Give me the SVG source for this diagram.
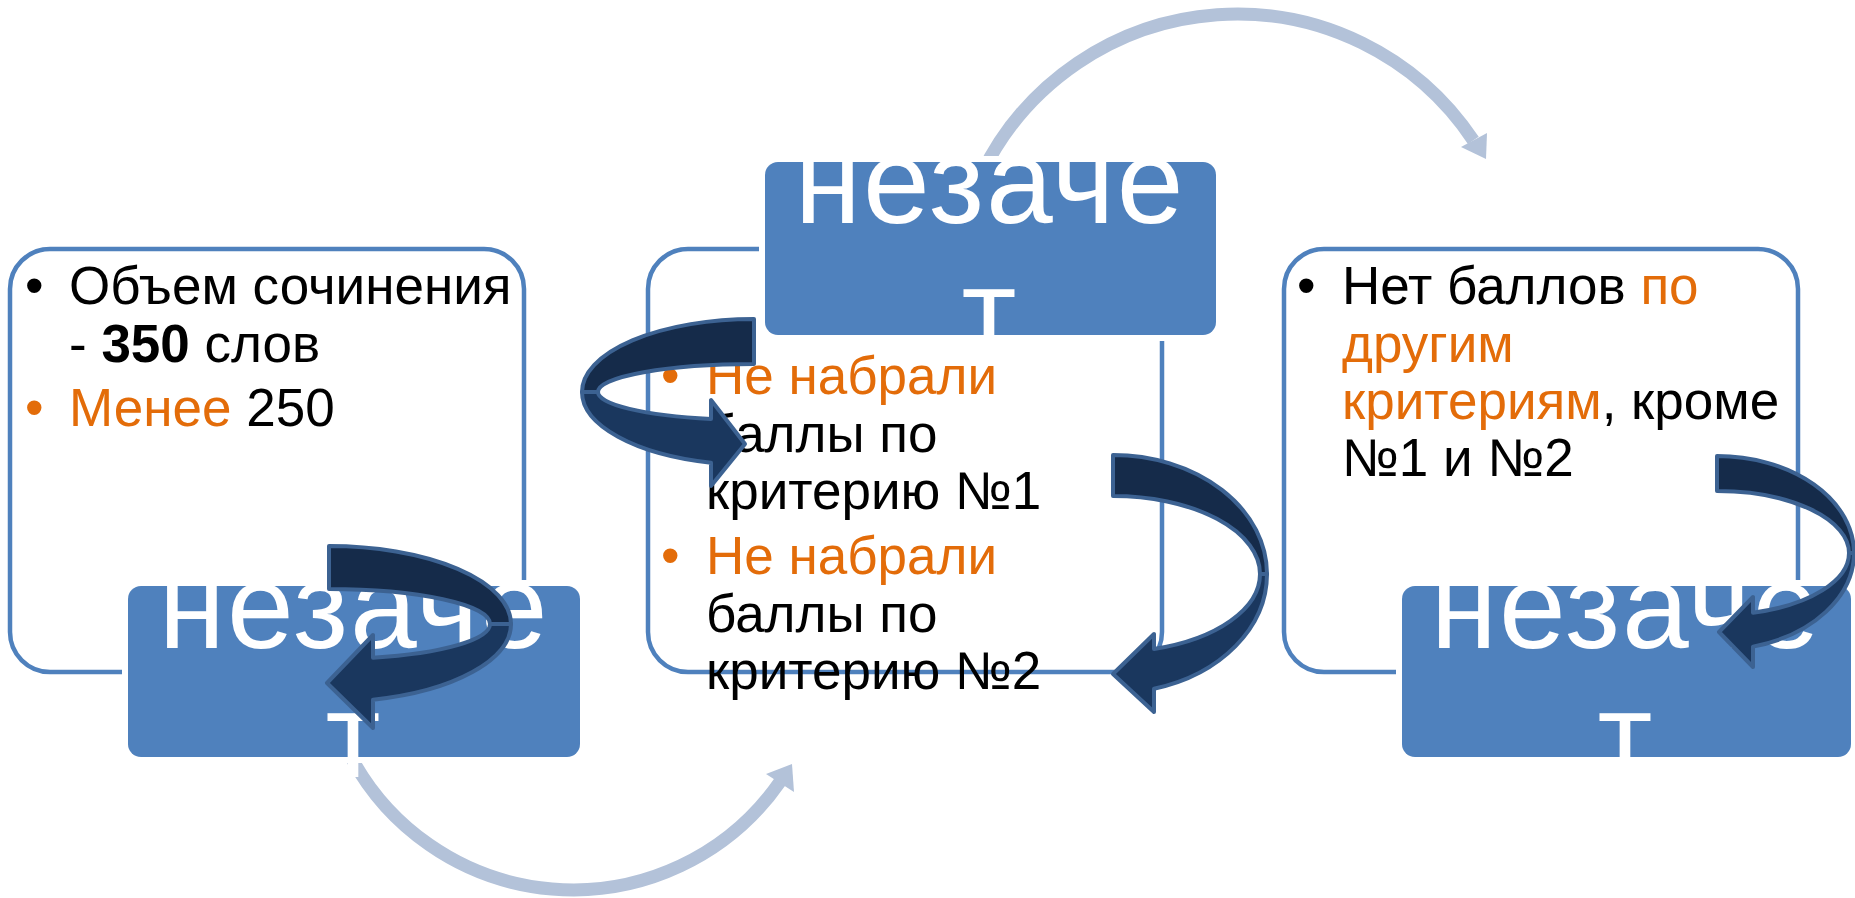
<svg xmlns="http://www.w3.org/2000/svg" width="1855" height="898" viewBox="0 0 1855 898">
<style>
.box{fill:#fff;stroke:#4F81BD;stroke-width:4.5}
.tag{fill:#4F81BD;stroke:#fff;stroke-width:12;paint-order:stroke}
.tagt{font-family:"Liberation Sans",Arial,sans-serif;font-size:120px;letter-spacing:2px;fill:#fff;text-anchor:middle}
.t{font-family:"Liberation Sans",Arial,sans-serif;font-size:53px;fill:#000}
.o{fill:#E36C09}
.arc{fill:none;stroke:#B3C2D9;stroke-width:13}
.ah{fill:#B3C2D9}
.back{fill:#152B4A;stroke:#3C6292;stroke-width:4;stroke-linejoin:round}
.front{fill:#1A375E;stroke:#3C6292;stroke-width:4;stroke-linejoin:round}
</style>
<rect width="1855" height="898" fill="#fff"/>
<g id="connectors-cycle">
  <path class="arc" d="M 981 175 A 284 284 0 0 1 1473.3 140.4"/>
  <polygon class="ah" points="1461,147 1487,133 1486,159"/>
  <path class="arc" d="M 345 745 A 252 252 0 0 0 780 781.7"/>
  <polygon class="ah" points="766,774 794,792 792,764"/>
</g>
<g id="node-left">
  <rect class="box" x="10" y="249" width="514" height="423" rx="40"/>
  <text class="t"><tspan x="25" y="304">•</tspan><tspan x="69" y="304">Объем сочинения</tspan></text>
  <text class="t" x="69" y="361.5">- <tspan font-weight="bold">350</tspan> слов</text>
  <text class="t"><tspan class="o" x="25" y="426">•</tspan><tspan class="o" x="69" y="426">Менее</tspan> 250</text>
</g>
<g id="node-middle">
  <rect class="box" x="648" y="249" width="514" height="423" rx="40"/>
  <text class="t"><tspan class="o" x="661" y="394">•</tspan><tspan class="o" x="706" y="394">Не набрали</tspan><tspan x="706" y="452">баллы по</tspan><tspan x="706" y="509">критерию №1</tspan></text>
  <text class="t"><tspan class="o" x="661" y="574">•</tspan><tspan class="o" x="706" y="574">Не набрали</tspan><tspan x="706" y="632">баллы по</tspan><tspan x="706" y="689">критерию №2</tspan></text>
</g>
<g id="node-right">
  <rect class="box" x="1284" y="249" width="514" height="423" rx="40"/>
  <text class="t"><tspan x="1297" y="304">•</tspan><tspan x="1342" y="304">Нет баллов </tspan><tspan class="o">по</tspan><tspan class="o" x="1342" y="361.5">другим</tspan><tspan class="o" x="1342" y="419">критериям</tspan><tspan>, кроме</tspan><tspan x="1342" y="475.5">№1 и №2</tspan></text>
</g>
<g id="tag-left">
  <rect class="tag" x="128" y="586" width="452" height="171" rx="13"/>
  <text class="tagt"><tspan x="354" y="648">незаче</tspan><tspan x="354" y="777">т</tspan></text>
</g>
<g id="tag-top">
  <rect class="tag" x="765" y="162" width="451" height="173" rx="13"/>
  <text class="tagt"><tspan x="990" y="223">незаче</tspan><tspan x="990" y="353">т</tspan></text>
</g>
<g id="tag-right">
  <rect class="tag" x="1402" y="586" width="449" height="171" rx="13"/>
  <text class="tagt"><tspan x="1626" y="648">незаче</tspan><tspan x="1626" y="777">т</tspan></text>
</g>
<g id="connectors-curved">
  <path class="back" d="M329,546 A182,78 0 0 1 511,624 L490,624 A161,35 0 0 0 329,589 Z"/>
  <path class="front" d="M511,624 A182,78 0 0 1 373,699.7 L373,728 L327,683 L373,635 L373,657.7 A161,35 0 0 0 490,624 Z"/>
  <path class="back" d="M754,319 A172,73 0 0 0 582,392 L598,392 A156,28 0 0 1 754,364 Z"/>
  <path class="front" d="M582,392 A172,73 0 0 0 711,462.7 L711,486 L745,444 L711,400 L711,418.9 A156,28 0 0 1 598,392 Z"/>
  <path class="back" d="M1113,455 A154,119 0 0 1 1267,574 L1260,574 A147,78 0 0 0 1113,496 Z"/>
  <path class="front" d="M1267,574 A154,119 0 0 1 1154,688.7 L1154,712 L1113,674 L1154,634 L1154,648.9 A147,78 0 0 0 1260,574 Z"/>
  <path class="back" d="M1717,456 A137,97 0 0 1 1854,553 L1849,553 A132,62 0 0 0 1717,491 Z"/>
  <path class="front" d="M1854,553 A137,97 0 0 1 1753,646.6 L1753,667 L1719,632 L1753,597 L1753,612.7 A132,62 0 0 0 1849,553 Z"/>
</g>
</svg>
